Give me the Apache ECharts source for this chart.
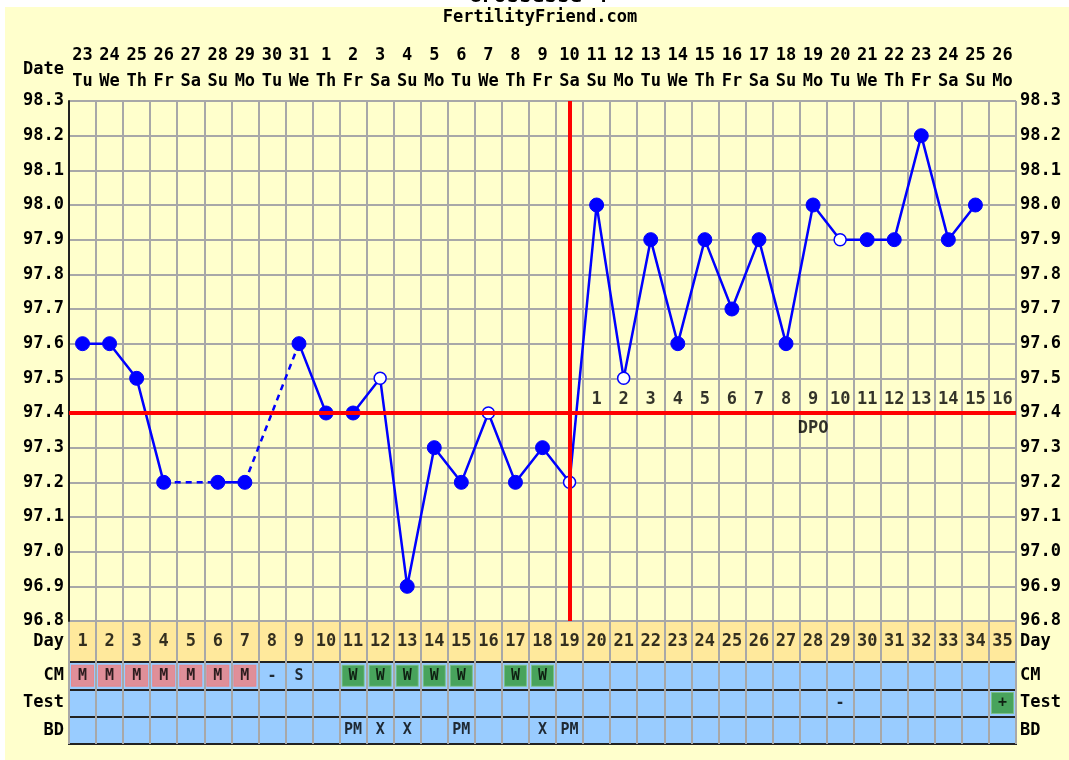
<!DOCTYPE html>
<html>
<head>
<meta charset="utf-8">
<title>Grossesse 4</title>
<script src="https://cdn.jsdelivr.net/npm/echarts@6/dist/echarts.min.js"></script>
<style>
	html, body { margin: 0; padding: 0; background: #fff; }
	#chart { width: 1069px; height: 760px; }
</style>
</head>
<body>
<div id="chart"></div>
<script>
// cycle days, calendar dates and weekdays (top axis)
var cycleDays = [1, 2, 3, 4, 5, 6, 7, 8, 9, 10, 11, 12, 13, 14, 15, 16, 17, 18, 19, 20,
	21, 22, 23, 24, 25, 26, 27, 28, 29, 30, 31, 32, 33, 34, 35];
var dates = ['23', '24', '25', '26', '27', '28', '29', '30', '31', '1', '2', '3', '4', '5',
	'6', '7', '8', '9', '10', '11', '12', '13', '14', '15', '16', '17', '18', '19', '20',
	'21', '22', '23', '24', '25', '26'];
var weekdays = ['Tu', 'We', 'Th', 'Fr', 'Sa', 'Su', 'Mo', 'Tu', 'We', 'Th', 'Fr', 'Sa', 'Su', 'Mo',
	'Tu', 'We', 'Th', 'Fr', 'Sa', 'Su', 'Mo', 'Tu', 'We', 'Th', 'Fr', 'Sa', 'Su', 'Mo',
	'Tu', 'We', 'Th', 'Fr', 'Sa', 'Su', 'Mo'];

// temperatures per cycle day (null = no reading)
var temps = [97.6, 97.6, 97.5, 97.2, null, 97.2, 97.2, null, 97.6, 97.4,
	97.4, 97.5, 96.9, 97.3, 97.2, 97.4, 97.2, 97.3, 97.2, 98.0,
	97.5, 97.9, 97.6, 97.9, 97.7, 97.9, 97.6, 98.0, 97.9, 97.9,
	97.9, 98.2, 97.9, 98.0, null];
var openDays = [12, 16, 19, 21, 29];        // discarded temps (hollow circles)
var dashedGaps = [[4, 6], [7, 9]];          // missing readings bridged by dashes
var coverline = 97.4;
var ovulationDay = 19;
var dpoDays = [20, 21, 22, 23, 24, 25, 26, 27, 28, 29, 30, 31, 32, 33, 34, 35];
var dpoLabels = ['1', '2', '3', '4', '5', '6', '7', '8', '9', '10', '11', '12', '13', '14', '15', '16'];
var dpoWordDay = 28;

// y axis range
var tempMin = 96.8;
var tempMax = 98.3;
var tempStep = 0.1;

// bottom table rows
var cmMarks = [[1, 'M'], [2, 'M'], [3, 'M'], [4, 'M'], [5, 'M'], [6, 'M'], [7, 'M'], [8, '-'], [9, 'S'],
	[11, 'W'], [12, 'W'], [13, 'W'], [14, 'W'], [15, 'W'], [17, 'W'], [18, 'W']];
var testMarks = [[29, '-'], [35, '+']];
var bdMarks = [[11, 'PM'], [12, 'X'], [13, 'X'], [15, 'PM'], [18, 'X'], [19, 'PM']];
var tableRows = ['BD', 'Test', 'CM'];

var FONT = 'DejaVu Sans Mono';
var BLUE = '#0000ff';
var boxColors = { 'M': '#f08080', 'W': '#339933', '+': '#339933' };

function txt(extra) {
	var s = { fontFamily: FONT, fontWeight: 'bold', fontSize: 17, color: '#000' };
	for (var k in extra) s[k] = extra[k];
	return s;
}

var L = 69, W = 947;
var GRAY = '#a8a8a8', DARK = '#222';

// 1 temperature line data, hollow markers for discarded temps
var tempData = temps.map(function (t, i) {
	if (t === null) return '-';
	if (openDays.indexOf(i + 1) >= 0) {
		return { value: t, symbolSize: 12, itemStyle: { color: '#fff', borderColor: BLUE, borderWidth: 1.5 } };
	}
	return t;
});

// 2 dashed series across missing readings
var gapSeries = dashedGaps.map(function (g) {
	var d = cycleDays.map(function () { return '-'; });
	d[g[0] - 1] = temps[g[0] - 1];
	d[g[1] - 1] = temps[g[1] - 1];
	return {
		type: 'line', xAxisIndex: 0, yAxisIndex: 0, data: d, connectNulls: true,
		symbol: 'none', z: 3, silent: true,
		lineStyle: { color: BLUE, width: 2.5, type: [6, 5] }
	};
});

// 3 table cells
function cellData(marks, row) {
	return marks.map(function (m) {
		var c = boxColors[m[1]];
		return {
			value: [m[0] - 1, row],
			label: { formatter: m[1] },
			itemStyle: c ? { color: c, borderColor: c === '#339933' ? '#7fc07f' : c, borderWidth: 1 } : { color: 'rgba(0,0,0,0)' }
		};
	});
}
var cellSeries = {
	type: 'scatter', xAxisIndex: 3, yAxisIndex: 4, symbol: 'rect', symbolSize: [22, 21], silent: true,
	data: cellData(cmMarks, 'CM').concat(cellData(testMarks, 'Test')).concat(cellData(bdMarks, 'BD')),
	label: { show: true, position: 'inside', fontFamily: FONT, fontWeight: 'bold', fontSize: 15, color: '#000' }
};

var myChart = echarts.init(document.getElementById('chart'));
var option = {
	backgroundColor: '#ffffcc',
	animation: false,
	graphic: [
		{ type: 'rect', z: 0, shape: { x: 0, y: 0, width: 1069, height: 7 }, style: { fill: '#fff' } },
		{ type: 'rect', z: 0, shape: { x: 0, y: 0, width: 5, height: 760 }, style: { fill: '#fff' } },
		{ type: 'text', z: 10, x: 538, y: -3, style: txt({ text: 'Grossesse 4', fontSize: 21, align: 'center', verticalAlign: 'middle' }) },
		{ type: 'text', z: 10, x: 540, y: 18, style: txt({ text: 'FertilityFriend.com', align: 'center', verticalAlign: 'middle' }) },
		{ type: 'text', z: 10, x: 64, y: 70, style: txt({ text: 'Date', align: 'right', verticalAlign: 'middle' }) }
	],
	grid: [
		{ left: L, width: W, top: 101, height: 520, show: true, backgroundColor: '#ffffcc', borderColor: GRAY, borderWidth: 1, outerBoundsMode: 'none' },
		{ left: L, width: W, top: 621, height: 41, show: true, backgroundColor: '#ffe99c', borderColor: DARK, borderWidth: 2, outerBoundsMode: 'none' },
		{ left: L, width: W, top: 662, height: 82, show: true, backgroundColor: '#99ccff', borderColor: DARK, borderWidth: 2, outerBoundsMode: 'none' }
	],
	xAxis: [
		{
			type: 'category', gridIndex: 0, position: 'top', data: cycleDays, boundaryGap: true,
			axisLine: { show: false }, axisTick: { show: false },
			axisLabel: txt({
				interval: 0, margin: 6, lineHeight: 26,
				formatter: function (v, i) { return dates[i] + '\n' + weekdays[i]; }
			}),
			splitLine: { show: true, interval: 0, lineStyle: { color: GRAY, width: 2 } }
		},
		{ type: 'category', gridIndex: 0, position: 'bottom', data: cycleDays, show: false },
		{
			type: 'category', gridIndex: 1, data: cycleDays, axisLabel: { show: false },
			axisLine: { show: false }, axisTick: { show: false },
			splitLine: { show: true, interval: 0, lineStyle: { color: GRAY, width: 2 } }
		},
		{
			type: 'category', gridIndex: 2, data: cycleDays, axisLabel: { show: false },
			axisLine: { show: false }, axisTick: { show: false },
			splitLine: { show: true, interval: 0, lineStyle: { color: GRAY, width: 2 } }
		}
	],
	yAxis: [
		{
			type: 'value', gridIndex: 0, min: tempMin, max: tempMax, interval: tempStep, position: 'left',
			axisLine: { show: true, lineStyle: { color: DARK, width: 2 } }, axisTick: { show: false },
			axisLabel: txt({ margin: 5, formatter: function (v) { return v.toFixed(1); } }),
			splitLine: { show: true, lineStyle: { color: GRAY, width: 2 } }
		},
		{
			type: 'value', gridIndex: 0, min: tempMin, max: tempMax, interval: tempStep, position: 'right',
			axisLine: { show: false }, axisTick: { show: false }, splitLine: { show: false },
			axisLabel: txt({ margin: 4, formatter: function (v) { return v.toFixed(1); } })
		},
		{ type: 'category', gridIndex: 1, data: ['Day'], position: 'left', axisLine: { show: false }, axisTick: { show: false }, axisLabel: txt({ margin: 5 }) },
		{ type: 'category', gridIndex: 1, data: ['Day'], position: 'right', axisLine: { show: false }, axisTick: { show: false }, axisLabel: txt({ margin: 4 }) },
		{
			type: 'category', gridIndex: 2, data: tableRows, position: 'left', axisLine: { show: false }, axisTick: { show: false },
			axisLabel: txt({ margin: 5 }),
			splitLine: { show: true, interval: 0, lineStyle: { color: DARK, width: 2 } }
		},
		{ type: 'category', gridIndex: 2, data: tableRows, position: 'right', axisLine: { show: false }, axisTick: { show: false }, axisLabel: txt({ margin: 4 }) }
	],
	series: [
		// coverline and ovulation line, under the temperatures
		{
			type: 'line', xAxisIndex: 0, yAxisIndex: 0, data: [], z: 1, silent: true,
			markLine: {
				silent: true, symbol: 'none', label: { show: false },
				lineStyle: { color: '#ff0000', width: 4, type: 'solid' },
				data: [{ yAxis: coverline }, { xAxis: ovulationDay - 1 }]
			}
		},
		{
			type: 'line', xAxisIndex: 0, yAxisIndex: 0, data: tempData, connectNulls: false, z: 4, silent: true,
			symbol: 'circle', symbolSize: 14,
			itemStyle: { color: BLUE, borderColor: BLUE },
			lineStyle: { color: BLUE, width: 2.5 }
		}
	].concat(gapSeries).concat([
		// DPO counters above the coverline
		{
			type: 'scatter', xAxisIndex: 0, yAxisIndex: 0, symbolSize: 1, silent: true, z: 2,
			itemStyle: { color: 'rgba(0,0,0,0)' },
			data: dpoDays.map(function (d) { return [d - 1, coverline]; }),
			label: txt({ show: true, position: 'top', distance: 4, formatter: function (p) { return dpoLabels[p.dataIndex]; } })
		},
		{
			type: 'scatter', xAxisIndex: 0, yAxisIndex: 0, symbolSize: 1, silent: true, z: 2,
			itemStyle: { color: 'rgba(0,0,0,0)' },
			data: [[dpoWordDay - 1, coverline]],
			label: txt({ show: true, position: 'bottom', distance: 7, formatter: 'DPO' })
		},
		// day numbers row
		{
			type: 'scatter', xAxisIndex: 2, yAxisIndex: 2, symbolSize: 1, silent: true,
			itemStyle: { color: 'rgba(0,0,0,0)' },
			data: cycleDays.map(function (d, i) { return [i, 'Day']; }),
			label: txt({ show: true, position: 'inside', formatter: function (p) { return String(cycleDays[p.dataIndex]); } })
		},
		cellSeries
	])
};
myChart.setOption(option);
</script>
</body>
</html>
